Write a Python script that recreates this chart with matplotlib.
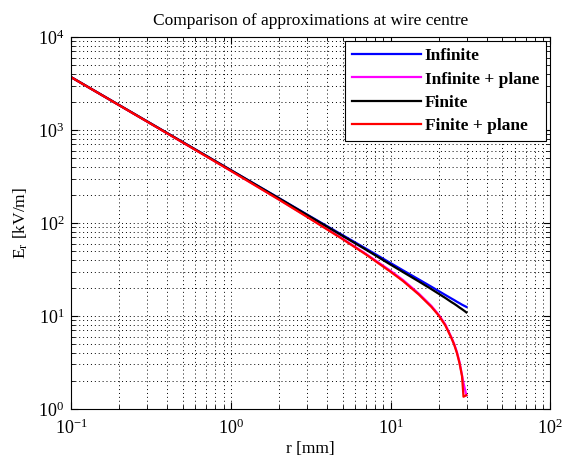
import matplotlib
matplotlib.use("Agg")
import matplotlib.pyplot as plt

# r [mm] sample points
r = [0.1, 0.2, 0.5, 1, 2, 3, 5, 7, 10, 12, 15, 18, 20, 22, 24, 25, 26, 27, 28, 29, 29.8]
r_plane = [0.1, 0.2, 0.5, 1, 2, 3, 5, 7, 10, 12, 15, 18, 20, 22, 24, 25, 26, 27, 28, 28.6, 29.8]

# E_r [kV/m]
e_infinite = [3700, 1850, 740, 370, 185, 123, 74, 53, 37, 30.8, 24.7, 20.6, 18.5,
              16.8, 15.4, 14.8, 14.2, 13.7, 13.2, 12.8, 12.5]
e_finite = [3700, 1849, 739, 369, 184, 122, 72.6, 51.6, 35.6, 29.5, 23.5, 19.4, 17.3,
            15.6, 14.1, 13.5, 12.9, 12.3, 11.8, 11.3, 10.9]
e_inf_plane = [3694, 1844, 734, 364, 179, 117, 67.8, 46.5, 30.5, 24.2, 17.4, 12.8, 10.3,
               8.1, 5.9, 5.0, 4.1, 3.2, 2.3, 1.9, 1.4]
e_fin_plane = [3694, 1843, 733, 363, 178, 116, 67.0, 45.8, 29.8, 23.6, 17.0, 12.5, 10.1,
               7.9, 5.8, 4.9, 4.0, 3.1, 2.25, 1.35, 1.4]

plt.rcParams["font.family"] = ["Liberation Serif", "DejaVu Serif"]
plt.rcParams["mathtext.fontset"] = "stix"

fig = plt.figure(figsize=(5.65, 4.63), dpi=100)
ax = fig.add_axes([0.126, 0.117, 0.848, 0.803])

ax.loglog(r, e_infinite, color="#0000ff", lw=1.6, label="Infinite")
ax.loglog(r_plane, e_inf_plane, color="#ff00ff", lw=1.6, label="Infinite + plane")
ax.loglog(r, e_finite, color="black", lw=1.6, label="Finite")
ax.loglog(r_plane, e_fin_plane, color="#ff0000", lw=1.6, label="Finite + plane")

ax.set_xlim(0.1, 100)
ax.set_ylim(1, 1e4)
ax.grid(True, which="both", linestyle=(0, (1, 3)), color="black", linewidth=0.7)
ax.tick_params(which="both", direction="in", top=True, right=True, labelsize=13)
ax.tick_params(axis="x", which="major", pad=7)
ax.tick_params(axis="y", which="major", pad=5)
ax.tick_params(which="major", length=5)
ax.tick_params(which="minor", length=3)

ax.set_title("Comparison of approximations at wire centre", fontsize=12.5, pad=9)
ax.set_xlabel("r [mm]", fontsize=12.5, labelpad=2)
ax.set_ylabel(r"E$_\mathregular{r}$ [kV/m]", fontsize=12.5, labelpad=6)

leg = ax.legend(loc="upper right", prop={"weight": "bold", "size": 12.5},
                fancybox=False, edgecolor="black", framealpha=1,
                handlelength=4.0, handletextpad=0.2, labelspacing=0.4,
                borderaxespad=0.25)
leg.get_frame().set_linewidth(0.8)

fig.savefig("out.png", dpi=100)
